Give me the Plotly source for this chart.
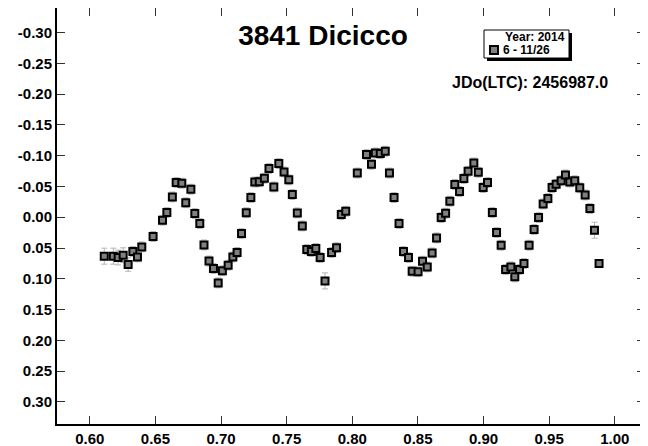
import plotly.graph_objects as go

# phase and differential magnitude
phase = [
    0.6110, 0.6179, 0.6216, 0.6254, 0.6292, 0.6328, 0.6363, 0.6396, 0.6482, 0.6554,
    0.6587, 0.6629, 0.6658, 0.6701, 0.6731, 0.6770, 0.6800, 0.6838, 0.6870, 0.6908,
    0.6942, 0.6978, 0.7010, 0.7054, 0.7090, 0.7122, 0.7156, 0.7192, 0.7227, 0.7257,
    0.7291, 0.7330, 0.7365, 0.7402, 0.7440, 0.7480, 0.7516, 0.7543, 0.7581, 0.7619,
    0.7653, 0.7688, 0.7722, 0.7755, 0.7792, 0.7842, 0.7880, 0.7916, 0.7950, 0.8038,
    0.8108, 0.8146, 0.8175, 0.8213, 0.8251, 0.8283, 0.8318, 0.8356, 0.8390, 0.8428,
    0.8456, 0.8501, 0.8535, 0.8571, 0.8608, 0.8642, 0.8677, 0.8711, 0.8743, 0.8781,
    0.8817, 0.8850, 0.8882, 0.8926, 0.8960, 0.8997, 0.9030, 0.9067, 0.9099, 0.9134,
    0.9168, 0.9208, 0.9238, 0.9274, 0.9308, 0.9347, 0.9385, 0.9419, 0.9454, 0.9490,
    0.9522, 0.9553, 0.9591, 0.9624, 0.9657, 0.9695, 0.9733, 0.9774, 0.9810, 0.9845,
    0.9880,
]
mag = [
    0.0633, 0.0633, 0.0655, 0.0617, 0.0768, 0.0557, 0.0645, 0.0482, 0.0313, 0.0049,
    -0.0076, -0.0330, -0.0564, -0.0552, -0.0236, -0.0455, -0.0060, 0.0102, 0.0450, 0.0711,
    0.0833, 0.1067, 0.0869, 0.0780, 0.0645, 0.0572, 0.0265, -0.0073, -0.0320, -0.0573,
    -0.0577, -0.0633, -0.0791, -0.0492, -0.0872, -0.0736, -0.0609, -0.0369, -0.0070, 0.0141,
    0.0525, 0.0557, 0.0508, 0.0655, 0.1035, 0.0573, 0.0495, -0.0045, -0.0097, -0.0718,
    -0.1018, -0.0861, -0.1044, -0.1034, -0.1072, -0.0718, -0.0320, 0.0102, 0.0557, 0.0655,
    0.0877, 0.0885, 0.0715, 0.0807, 0.0580, 0.0336, 0.0005, -0.0065, -0.0260, -0.0533,
    -0.0417, -0.0629, -0.0747, -0.0882, -0.0731, -0.0482, -0.0564, -0.0076, 0.0248, 0.0455,
    0.0849, 0.0807, 0.0969, 0.0849, 0.0752, 0.0455, 0.0200, 0.0005, -0.0216, -0.0304,
    -0.0482, -0.0536, -0.0593, -0.0687, -0.0573, -0.0593, -0.0479, -0.0362, -0.0141, 0.0211,
    0.0752,
]
err = [0.013, 0.013, 0.012, 0.012, 0.011] + [0.008] * 39 + [0.013] + [0.008] * 54 + [0.013]

x_ticks = [0.60, 0.65, 0.70, 0.75, 0.80, 0.85, 0.90, 0.95, 1.00]
x_labels = ["0.60", "0.65", "0.70", "0.75", "0.80", "0.85", "0.90", "0.95", "1.00"]
y_ticks = [-0.30, -0.25, -0.20, -0.15, -0.10, -0.05, 0.00,
           0.05, 0.10, 0.15, 0.20, 0.25, 0.30]
y_labels = ["-0.30", "-0.25", "-0.20", "-0.15", "-0.10", "-0.05", "0.00",
            "0.05", "0.10", "0.15", "0.20", "0.25", "0.30"]

# page body adds an 8px margin, so the figure is a bit smaller than the window
OFF = 8
W, H = 640, 438
L, R, T, B = 49, 3, 0, 22


def px(x):
    # screen pixel -> paper x
    return (x - OFF - L) / (W - L - R)


def py(y):
    # screen pixel -> paper y
    return 1 - (y - OFF - T) / (H - T - B)


fig = go.Figure(go.Scatter(
    x=phase, y=mag, mode="markers",
    marker=dict(symbol="square", size=7, color="#808080",
                line=dict(color="black", width=2)),
    error_y=dict(type="data", array=err, color="#b4b4b4", thickness=1, width=3),
    showlegend=False,
))

font = "Liberation Sans, Arial"
axis = dict(showline=True, linecolor="black", linewidth=2, mirror="ticks",
            ticks="inside", ticklen=8, tickcolor="#333", tickwidth=1,
            showgrid=False, zeroline=False, automargin=False,
            tickfont=dict(family=font, size=15, color="black", weight="bold"))

fig.update_xaxes(axis, range=[0.575, 1.023], tickvals=x_ticks, ticktext=x_labels)
fig.update_yaxes(axis, range=[0.336, -0.34], tickvals=y_ticks, ticktext=y_labels)

fig.update_layout(
    width=W, height=H,
    margin=dict(l=L, r=R, t=T, b=B),
    plot_bgcolor="white", paper_bgcolor="white",
    title=dict(text="3841 Dicicco", x=(323 - OFF) / W, xanchor="center",
               y=1 - (35 - OFF) / H, yanchor="middle",
               font=dict(family=font, size=28, color="black", weight="bold")),
    shapes=[
        # legend box with shadow
        dict(type="rect", xref="paper", yref="paper",
             x0=px(487), x1=px(572), y0=py(33), y1=py(61),
             fillcolor="black", line=dict(width=0)),
        dict(type="rect", xref="paper", yref="paper",
             x0=px(484), x1=px(569), y0=py(30), y1=py(58),
             fillcolor="white", line=dict(color="black", width=1)),
        dict(type="rect", xref="paper", yref="paper",
             x0=px(490), x1=px(498), y0=py(46), y1=py(54),
             fillcolor="#808080", line=dict(color="black", width=2)),
    ],
    annotations=[
        dict(text="Year: 2014", xref="paper", yref="paper",
             x=px(567), y=py(37), xanchor="right", yanchor="middle",
             showarrow=False,
             font=dict(family=font, size=12, color="black", weight="bold")),
        dict(text="6 - 11/26", xref="paper", yref="paper",
             x=px(501), y=py(50), xanchor="left", yanchor="middle",
             showarrow=False,
             font=dict(family=font, size=12, color="black", weight="bold")),
        dict(text="JDo(LTC): 2456987.0", xref="paper", yref="paper",
             x=px(610), y=py(82), xanchor="right", yanchor="middle",
             showarrow=False,
             font=dict(family=font, size=16, color="black", weight="bold")),
    ],
)

fig.write_html("out.html")
